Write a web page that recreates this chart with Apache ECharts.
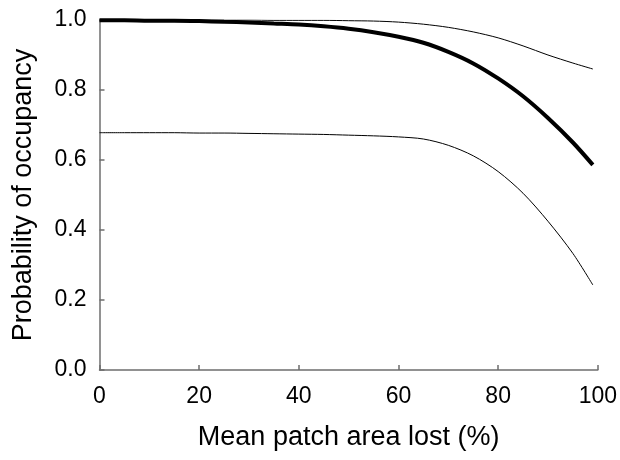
<!DOCTYPE html>
<html>
<head>
<meta charset="utf-8">
<script src="https://cdn.jsdelivr.net/npm/echarts@6/dist/echarts.min.js"></script>
<style>
  html, body { margin: 0; padding: 0; background: #fff; }
  #chart { width: 620px; height: 460px; }
</style>
</head>
<body>
<div id="chart"></div>
<script>
// mean patch area lost (%)
var areaLost = [0, 5, 10, 15, 20, 25, 30, 35, 40, 45, 50, 55, 60, 65, 70, 75, 80, 85, 90, 95, 99];
// fitted probability and bounds
var meanProb  = [0.999, 0.999, 0.998, 0.998, 0.997, 0.995, 0.993, 0.990, 0.987, 0.982, 0.975, 0.965, 0.952, 0.935, 0.909, 0.876, 0.833, 0.782, 0.720, 0.650, 0.586];
var upperProb = [1.000, 1.000, 1.000, 1.000, 1.000, 1.000, 1.000, 0.999, 0.999, 0.999, 0.998, 0.997, 0.994, 0.988, 0.979, 0.966, 0.949, 0.926, 0.900, 0.877, 0.860];
var lowerProb = [0.678, 0.678, 0.678, 0.678, 0.677, 0.677, 0.676, 0.675, 0.674, 0.673, 0.671, 0.669, 0.666, 0.660, 0.642, 0.612, 0.567, 0.505, 0.425, 0.333, 0.243];

function pairs(ys) {
    return areaLost.map(function (x, i) { return [x, ys[i]]; });
}

var chart = echarts.init(document.getElementById('chart'));
var font = 'Liberation Sans, Arial, sans-serif';
var axisColor = '#6e6e6e';

chart.setOption({
    animation: false,
    grid: { left: 99.5, right: 22, top: 20, bottom: 90 },
    xAxis: {
        type: 'value',
        min: 0, max: 100, interval: 20,
        name: 'Mean patch area lost (%)',
        nameLocation: 'middle',
        nameGap: 54,
        nameTextStyle: { fontFamily: font, fontSize: 27, color: '#000' },
        axisLine: { lineStyle: { color: axisColor, width: 1.5 } },
        axisTick: { inside: true, length: 5, lineStyle: { color: axisColor, width: 1.5 } },
        axisLabel: { fontFamily: font, fontSize: 23, color: '#000', margin: 15 },
        splitLine: { show: false }
    },
    yAxis: {
        type: 'value',
        min: 0, max: 1, interval: 0.2,
        name: 'Probability of occupancy',
        nameLocation: 'middle',
        nameGap: 62,
        nameTextStyle: { fontFamily: font, fontSize: 27, color: '#000' },
        axisLine: { show: true, lineStyle: { color: axisColor, width: 1.5 } },
        axisTick: { show: true, inside: true, length: 5, lineStyle: { color: axisColor, width: 1.5 } },
        axisLabel: {
            fontFamily: font, fontSize: 23, color: '#000', margin: 13,
            formatter: function (v) { return v.toFixed(1); }
        },
        splitLine: { show: false }
    },
    series: [
        {
            name: 'upper', type: 'line', smooth: 0.3, symbol: 'none',
            lineStyle: { color: '#000', width: 1 },
            data: pairs(upperProb)
        },
        {
            name: 'lower', type: 'line', smooth: 0.3, symbol: 'none',
            lineStyle: { color: '#000', width: 1 },
            data: pairs(lowerProb)
        },
        {
            name: 'mean', type: 'line', smooth: 0.3, symbol: 'none',
            lineStyle: { color: '#000', width: 4 },
            data: pairs(meanProb)
        }
    ]
});
</script>
</body>
</html>
